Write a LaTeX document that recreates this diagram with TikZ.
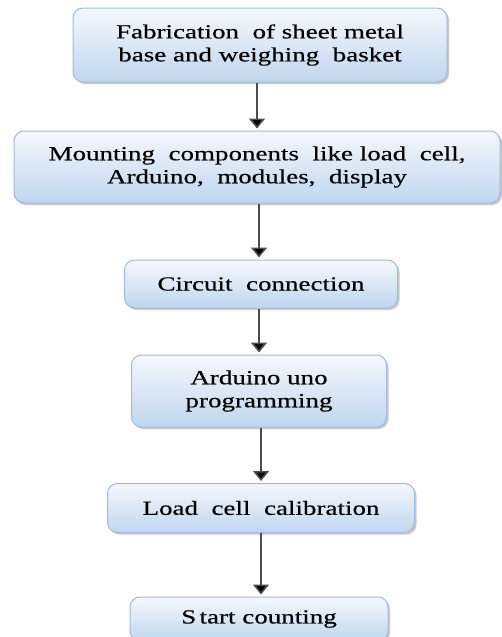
\documentclass[tikz,border=0pt]{standalone}
\usepackage{fontspec}
\setmainfont[FakeStretch=1.35,FakeBold=0.4]{Liberation Serif}
\usetikzlibrary{shadows,arrows.meta}
\definecolor{boxtop}{HTML}{F4F8FD}
\definecolor{boxbot}{HTML}{C0D6EE}
\definecolor{boxline}{HTML}{9DBBDF}
\tikzset{
  stepbox/.style={draw=boxline, line width=1pt, rounded corners=10pt,
    top color=boxtop, bottom color=boxbot,
    drop shadow={shadow xshift=2pt, shadow yshift=-2pt, fill=black!35, opacity=0.6},
    font=\fontsize{20}{23}\selectfont, align=center, inner sep=0pt},
  flow/.style={draw=black!70, line width=1.6pt, -{Triangle[length=10pt,width=16pt,fill=black]}, shorten >=2pt}
}
\begin{document}
\begin{tikzpicture}[x=1pt,y=-1pt]
\useasboundingbox (0,0) rectangle (501,637);
\node[stepbox, minimum width=374pt, minimum height=74pt] (b1) at (260,45)
  {Fabrication\ \ of sheet metal\\base and weighing\ \ basket};
\node[stepbox, minimum width=486pt, minimum height=72pt] (b2) at (257,167)
  {Mounting\ \ components\ \ like load\ \ cell,\\Arduino,\ \ modules,\ \ display};
\node[stepbox, minimum width=273pt, minimum height=48pt] (b3) at (261,284)
  {Circuit\ \ connection};
\node[stepbox, minimum width=255pt, minimum height=72pt] (b4) at (259,391)
  {Arduino uno\\programming};
\node[stepbox, minimum width=307pt, minimum height=49pt] (b5) at (261,508)
  {Load\ \ cell\ \ calibration};
\node[stepbox, minimum width=258pt, minimum height=44pt] (b6) at (259,619)
  {S\,tart counting};
\draw[flow] (b1.south -| 257,0) -- (b2.north -| 257,0);
\draw[flow] (b2.south -| 259,0) -- (b3.north -| 259,0);
\draw[flow] (b3.south -| 259,0) -- (b4.north -| 259,0);
\draw[flow] (b4.south -| 261,0) -- (b5.north -| 261,0);
\draw[flow] (b5.south -| 261,0) -- (b6.north -| 261,0);
\end{tikzpicture}
\end{document}
